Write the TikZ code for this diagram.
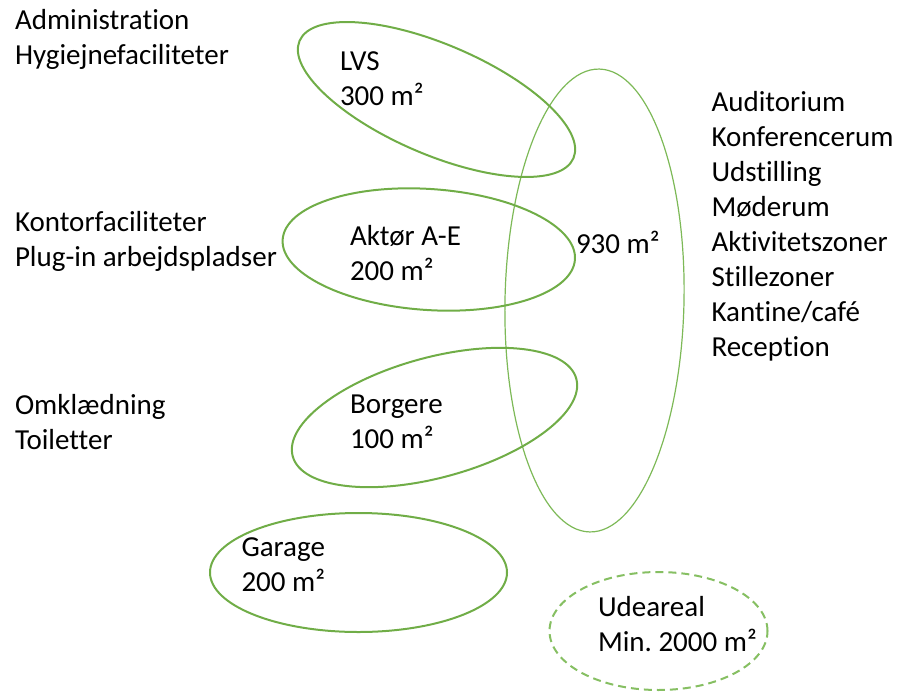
\documentclass[tikz,border=0pt]{standalone}
\usepackage{fontspec}
\setmainfont{Carlito}[Ligatures={NoCommon,NoContextual}]
\usetikzlibrary{shapes.geometric}
\definecolor{zonegreen}{HTML}{70AD47}
\definecolor{hallgreen}{HTML}{7DB957}
\definecolor{outgreen}{HTML}{86BF62}
\tikzset{
  % anchored at the baseline of the last line of each block
  txt/.style={anchor=base west, align=left, inner sep=0pt, outer sep=0pt,
    font=\fontsize{29pt}{35pt}\selectfont},
  zone/.style={ellipse, draw=zonegreen, line width=2pt, inner sep=0pt, outer sep=0pt},
  hall/.style={ellipse, draw=hallgreen, line width=1.2pt, inner sep=0pt, outer sep=0pt},
  outdoor/.style={ellipse, draw=outgreen, line width=2pt, dash pattern=on 8pt off 5pt,
    inner sep=0pt, outer sep=0pt}
}
\begin{document}
\begin{tikzpicture}[x=1pt, y=-1pt]
\useasboundingbox (0,0) rectangle (904,693);

% area ellipses
\node[hall, minimum width=179pt, minimum height=463pt, rotate=-1.2] (central) at (594.5,300.5) {};
\node[zone, minimum width=298pt, minimum height=110pt, rotate=-23.2] (lvs) at (436.5,99.5) {};
\node[zone, minimum width=293pt, minimum height=121pt, rotate=-3.9] (aktor) at (428.8,249.5) {};
\node[zone, minimum width=294pt, minimum height=120pt, rotate=15.3] (borgere) at (434.5,417.5) {};
\node[zone, minimum width=297pt, minimum height=119pt] (garage) at (358.5,572.5) {};
\node[outdoor, minimum width=218pt, minimum height=118pt] (udeareal) at (658.5,631) {};

% labels inside the ellipses
\node[txt] (lvslbl) at (340,105.5) {LVS\\300 m²};
\node[txt] (aktorlbl) at (350,280) {Aktør A-E\\200 m²};
\node[txt] (centrallbl) at (576,253) {930 m²};
\node[txt] (borgerelbl) at (350,448) {Borgere\\100 m²};
\node[txt] (garagelbl) at (241.5,591.5) {Garage\\200 m²};
\node[txt] (udearealbl) at (598,651) {Udeareal\\Min.\ 2000 m²};

% function lists
\node[txt] (lvsfunc) at (15,64) {Administration\\Hygiejnefaciliteter};
\node[txt] (aktorfunc) at (15,266) {Kontorfaciliteter\\Plug-in arbejdspladser};
\node[txt] (borgerefunc) at (15,449) {Omklædning\\Toiletter};
\node[txt] (centralfunc) at (711.5,356) {Auditorium\\Konferencerum\\Udstilling\\Møderum\\Aktivitetszoner\\Stillezoner\\Kantine/café\\Reception};
\end{tikzpicture}
\end{document}
